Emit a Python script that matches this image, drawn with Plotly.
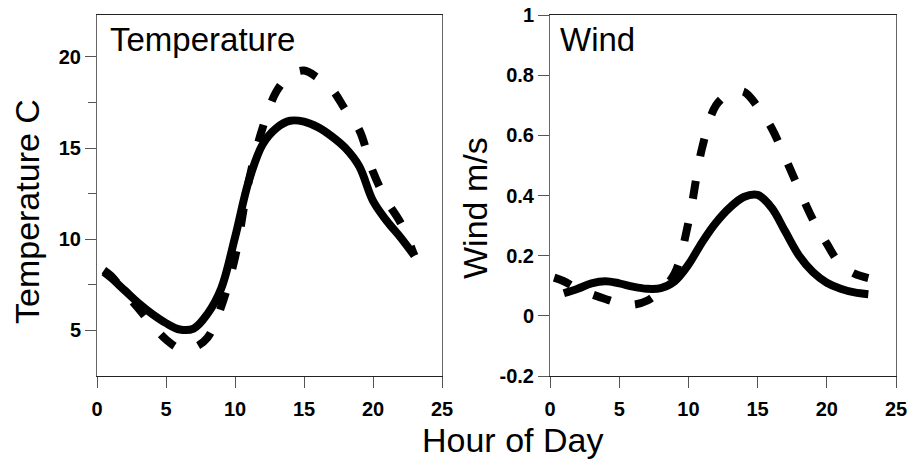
import plotly.graph_objects as go
from plotly.subplots import make_subplots

# ---- data ----
temp_hours = [0.5, 1, 2, 3, 4, 5, 6, 7, 8, 9, 10, 11, 12, 13, 14, 15, 16, 17, 18, 19, 20, 21, 22, 23]
temp_solid = [8.2, 7.9, 7.2, 6.5, 5.9, 5.4, 5.05, 5.1, 5.9, 7.3, 10.1, 13.2, 15.2, 16.1, 16.5, 16.45,
              16.15, 15.65, 15.0, 14.0, 12.1, 11.0, 10.1, 9.1]
temp_dash = [8.3, 8.0, 7.1, 6.2, 5.3, 4.5, 4.0, 4.05, 4.6, 6.3, 9.0, 13.2, 16.1, 18.1, 19.0, 19.25,
             18.85, 18.25, 17.1, 16.0, 13.7, 12.1, 10.9, 9.1]

wind_hours_solid = [1, 2, 3, 4, 5, 6, 7, 8, 9, 10, 11, 12, 13, 14, 15, 16, 17, 18, 19, 20, 21, 22, 23]
wind_solid = [0.075, 0.09, 0.108, 0.115, 0.108, 0.097, 0.09, 0.092, 0.115, 0.17, 0.245, 0.31, 0.36,
              0.395, 0.402, 0.36, 0.28, 0.2, 0.145, 0.11, 0.09, 0.078, 0.072]
wind_hours_dash = [0.3, 1, 2, 3, 4, 5, 6, 7, 8, 9, 10, 11, 12, 13, 14, 15, 16, 17, 18, 19, 20, 21, 22, 23]
wind_dash = [0.127, 0.115, 0.09, 0.072, 0.056, 0.042, 0.037, 0.05, 0.085, 0.14, 0.31, 0.56, 0.70,
             0.74, 0.745, 0.695, 0.625, 0.525, 0.42, 0.32, 0.24, 0.17, 0.14, 0.125]

x_ticks = [0, 5, 10, 15, 20, 25]
temp_ticks = [5, 10, 15, 20]
temp_minor = [7.5, 12.5, 17.5]
wind_ticks = [-0.2, 0, 0.2, 0.4, 0.6, 0.8, 1]
wind_tick_text = ["-0.2", "0", "0.2", "0.4", "0.6", "0.8", "1"]

FONT = "Liberation Sans"
W, H = 910, 460

fig = make_subplots(rows=1, cols=2)

solid = dict(color="black", width=8, shape="spline")
dashed = dict(color="black", width=8, shape="spline", dash="18px,25px")

fig.add_trace(go.Scatter(x=temp_hours, y=temp_dash, mode="lines", line=dashed), row=1, col=1)
fig.add_trace(go.Scatter(x=temp_hours, y=temp_solid, mode="lines", line=solid), row=1, col=1)
fig.add_trace(go.Scatter(x=wind_hours_dash, y=wind_dash, mode="lines", line=dashed), row=1, col=2)
fig.add_trace(go.Scatter(x=wind_hours_solid, y=wind_solid, mode="lines", line=solid), row=1, col=2)

tickfont = dict(family=FONT, size=20, color="black", weight="bold")

common_x = dict(range=[0, 25], tickvals=x_ticks, ticks="outside", ticklen=11, tickcolor="#555",
                showline=True, linecolor="#222", linewidth=1, mirror=True, showgrid=False,
                zeroline=False, tickfont=tickfont, ticklabelstandoff=4, automargin=False)
common_y = dict(ticks="outside", ticklen=11, tickcolor="#555", showline=True, linecolor="#666",
                linewidth=1, mirror=True, showgrid=False, zeroline=False, tickfont=tickfont,
                automargin=False)

y_bot = 1 - 376 / H
y_top = 1 - 15 / H

fig.update_xaxes(domain=[97 / W, 442 / W], **common_x, row=1, col=1)
fig.update_xaxes(domain=[550 / W, 896 / W], **common_x, row=1, col=2)
fig.update_yaxes(domain=[y_bot, y_top], range=[2.5, 22.3], tickvals=temp_ticks,
                 minor=dict(tickvals=temp_minor, ticks="outside", ticklen=8, tickcolor="#555"),
                 **common_y, row=1, col=1)
fig.update_yaxes(domain=[y_bot, y_top], range=[-0.2, 1.0], tickvals=wind_ticks,
                 ticktext=wind_tick_text, **common_y, row=1, col=2)

big = dict(family=FONT, size=34, color="black")
annotations = [
    dict(text="Temperature", x=108 / W, y=1 - 40 / H, xanchor="left", yanchor="middle", font=dict(family=FONT, size=33, color="black")),
    dict(text="Wind", x=558 / W, y=1 - 40 / H, xanchor="left", yanchor="middle", font=dict(family=FONT, size=33, color="black")),
    dict(text="Temperature C", x=27 / W, y=1 - 212 / H, textangle=-90, xanchor="center", yanchor="middle", font=big),
    dict(text="Wind m/s", x=475 / W, y=1 - 208 / H, textangle=-90, xanchor="center", yanchor="middle", font=big),
    dict(text="Hour of Day", x=512 / W, y=1 - 440 / H, xanchor="center", yanchor="middle", font=big),
]
for a in annotations:
    a.update(xref="paper", yref="paper", showarrow=False)

fig.update_layout(width=W, height=H, margin=dict(l=0, r=0, t=0, b=0, autoexpand=False),
                  showlegend=False, paper_bgcolor="white", plot_bgcolor="white",
                  annotations=annotations)

fig.write_html("out.html")
